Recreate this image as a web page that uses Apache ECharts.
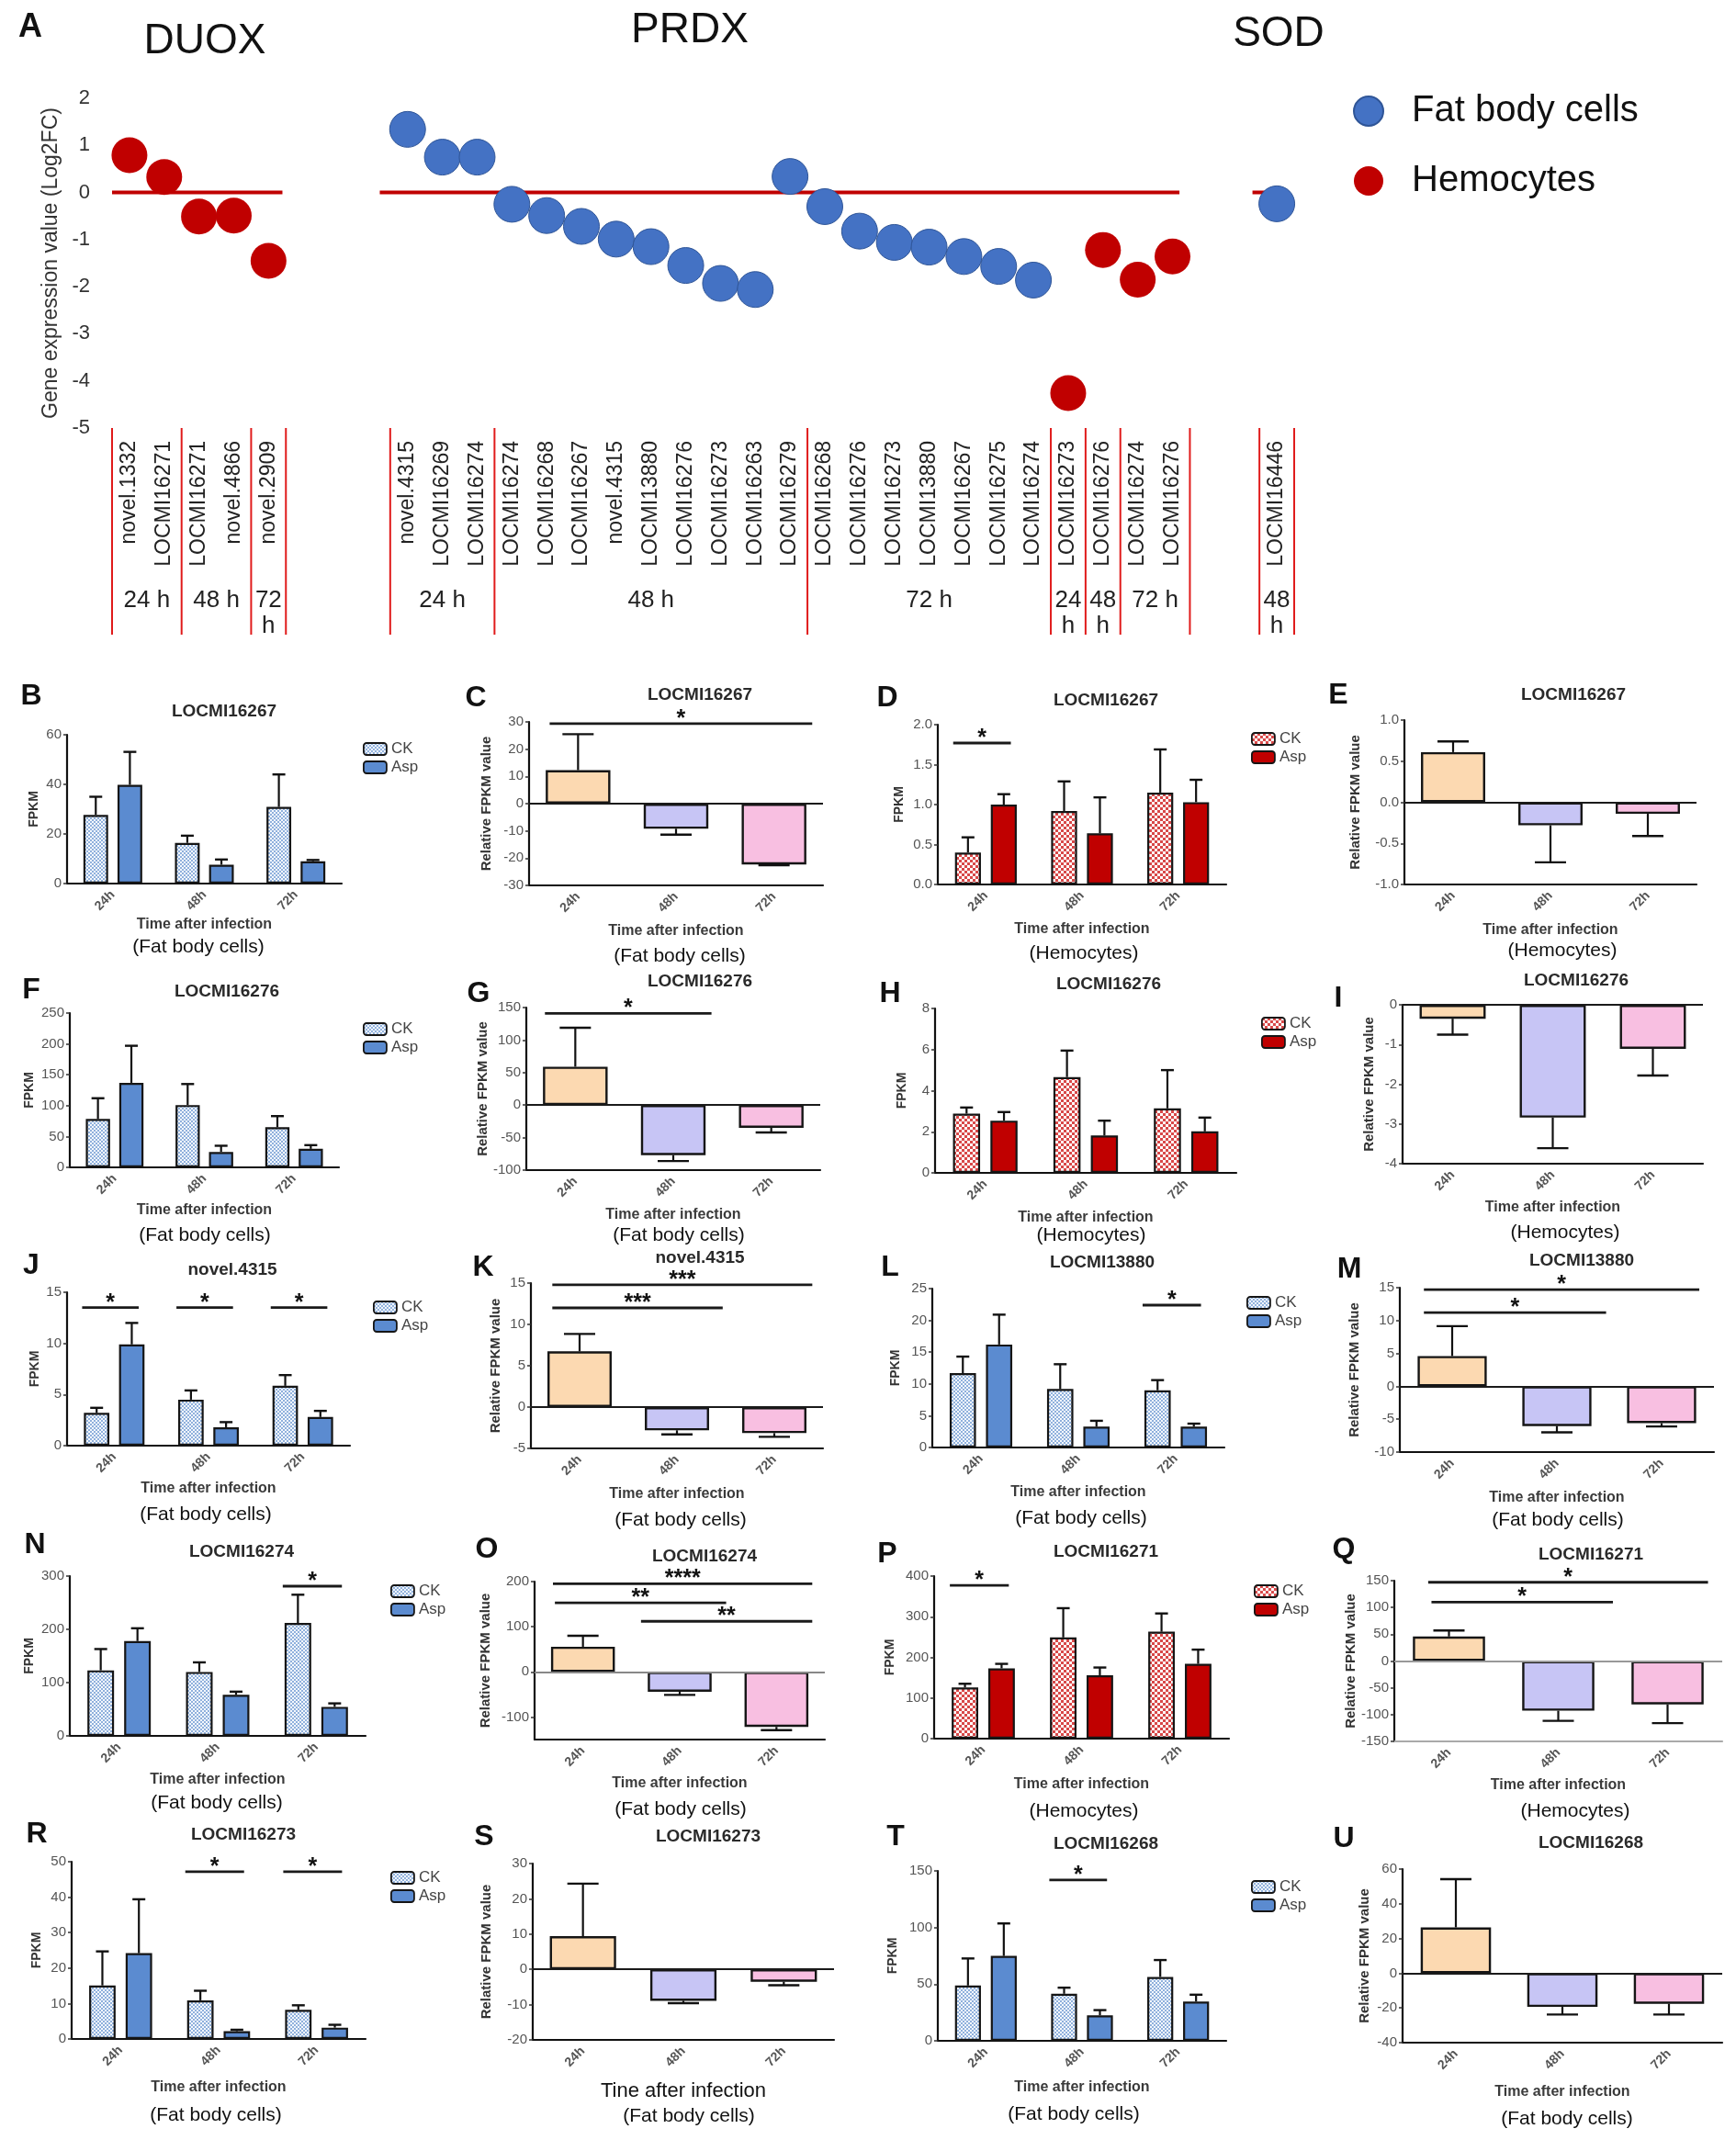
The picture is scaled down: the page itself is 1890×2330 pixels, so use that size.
<!DOCTYPE html>
<html>
<head>
<meta charset="utf-8">
<script src="https://cdn.jsdelivr.net/npm/echarts@6/dist/echarts.min.js"></script>
<style>html,body{margin:0;padding:0;background:#fff}#chart{width:1890px;height:2330px}</style>
</head>
<body>
<div id="chart"></div>
<script>
// ================= DATA =================
// Panel A (log2 fold change)
const duoxGenes = ['novel.1332','LOCMI16271','LOCMI16271','novel.4866','novel.2909'];
const duoxHemocytes = [0.79, 0.33, -0.51, -0.49, -1.45];
const duoxTimes = [['24 h',2],['48 h',2],['72 h',1]];
const prdxGenes = ['novel.4315','LOCMI16269','LOCMI16274','LOCMI16274','LOCMI16268','LOCMI16267','novel.4315','LOCMI13880','LOCMI16276','LOCMI16273','LOCMI16263','LOCMI16279','LOCMI16268','LOCMI16276','LOCMI16273','LOCMI13880','LOCMI16267','LOCMI16275','LOCMI16274','LOCMI16273','LOCMI16276','LOCMI16274','LOCMI16276'];
const prdxFatBody = [1.34,0.75,0.75,-0.25,-0.49,-0.72,-0.99,-1.15,-1.55,-1.93,-2.06,0.34,-0.30,-0.82,-1.06,-1.16,-1.36,-1.57,-1.86,null,null,null,null];
const prdxHemocytes = [null,null,null,null,null,null,null,null,null,null,null,null,null,null,null,null,null,null,null,-4.26,-1.22,-1.85,-1.36];
const prdxTimes = [['24 h',3],['48 h',9],['72 h',7],['24 h',1],['48 h',1],['72 h',2]];
const sodGenes = ['LOCMI16446'];
const sodFatBody = [-0.24];
const sodTimes = [['48 h',1]];

const times = ['24h','48h','72h'];

// FPKM panels: mean and error-bar end (mean + SEM)
const B_CK = [27.7, 16.4, 30.9], B_CK_ERR = [35.0, 19.3, 44.0], B_ASP = [39.8, 7.6, 9.0], B_ASP_ERR = [53.1, 9.7, 9.5];
const D_CK = [0.40, 0.92, 1.15], D_CK_ERR = [0.59, 1.29, 1.69], D_ASP = [1.00, 0.64, 1.03], D_ASP_ERR = [1.13, 1.09, 1.31];
const F_CK = [78.5, 101, 65], F_CK_ERR = [112, 135, 83], F_ASP = [137, 25, 30], F_ASP_ERR = [197, 35, 36];
const H_CK = [2.88, 4.66, 3.14], H_CK_ERR = [3.18, 5.95, 5.0], H_ASP = [2.54, 1.82, 2.02], H_ASP_ERR = [2.96, 2.54, 2.69];
const J_CK = [3.2, 4.5, 5.85], J_CK_ERR = [3.7, 5.4, 6.9], J_ASP = [9.9, 1.8, 2.8], J_ASP_ERR = [12.0, 2.3, 3.4];
const L_CK = [11.7, 9.2, 9.0], L_CK_ERR = [14.3, 13.1, 10.6], L_ASP = [16.2, 3.27, 3.27], L_ASP_ERR = [20.9, 4.2, 3.75];
const N_CK = [123, 120, 212], N_CK_ERR = [163, 138, 265], N_ASP = [178, 77, 54.5], N_ASP_ERR = [202, 83, 61];
const P_CK = [126, 249, 263], P_CK_ERR = [135, 321, 308], P_ASP = [173, 156, 184], P_ASP_ERR = [184, 175, 219];
const R_CK = [15.1, 10.9, 8.2], R_CK_ERR = [24.7, 13.6, 9.5], R_ASP = [24.2, 2.2, 3.2], R_ASP_ERR = [39.4, 2.6, 4.0];
const T_CK = [48.8, 41.5, 56.4], T_CK_ERR = [72.7, 46.9, 71.3], T_ASP = [74.9, 22.5, 34.7], T_ASP_ERR = [103.6, 27.1, 40.7];
// significance within a time point: [time index, height]
const B_SIG = [], D_SIG = [[0, 1.77]], F_SIG = [], H_SIG = [];
const J_SIG = [[0, 13.5], [1, 13.5], [2, 13.5]], L_SIG = [[2, 22.4]], N_SIG = [[2, 281]];
const P_SIG = [[0, 377]], R_SIG = [[1, 47.2], [2, 47.2]], T_SIG = [[1, 142]];

// Relative FPKM panels: value and error-bar end
const C_REL = [12.3, -9.2, -22.3], C_ERR = [25.5, -11.4, -22.6];
const E_REL = [0.61, -0.28, -0.14], E_ERR = [0.74, -0.73, -0.41];
const G_REL = [59, -77, -35], G_ERR = [119, -86, -42];
const I_REL = [-0.35, -2.84, -1.11], I_ERR = [-0.75, -3.61, -1.78];
const K_REL = [6.74, -2.81, -3.15], K_ERR = [8.85, -3.3, -3.6];
const M_REL = [4.6, -6.04, -5.6], M_ERR = [9.15, -7.0, -6.1];
const O_REL = [55.6, -44, -122], O_ERR = [80, -51, -129];
const Q_REL = [45.8, -92.7, -81], Q_ERR = [57, -111.6, -116];
const S_REL = [9.4, -8.9, -3.5], S_ERR = [24.3, -9.6, -4.5];
const U_REL = [26.4, -19.4, -17.6], U_ERR = [54.2, -23.8, -23.8];
// comparisons: [from (time units), to (time units), height, stars]
const C_SIG = [[-0.29, 2.39, 29.4, '*']];
const E_SIG = [];
const G_SIG = [[-0.31, 1.39, 141, '*']];
const I_SIG = [];
const K_SIG = [[-0.28, 2.39, 14.8, '***'], [-0.28, 1.47, 12.0, '***']];
const M_SIG = [[-0.27, 2.36, 14.7, '*'], [-0.27, 1.47, 11.2, '*']];
const O_SIG = [[-0.31, 2.37, 195, '****'], [-0.29, 1.48, 153, '**'], [0.60, 2.37, 112, '**']];
const Q_SIG = [[-0.19, 2.37, 147, '*'], [-0.16, 1.5, 110, '*']];
const S_SIG = [], U_SIG = [];

// ================= STYLE / LAYOUT =================
const SANS = "'Liberation Sans', Arial, Helvetica, sans-serif";
function checker(c1, c2, cell) {
  const cv = document.createElement('canvas');
  cv.width = cv.height = cell * 2;
  const g = cv.getContext('2d');
  g.fillStyle = c2; g.fillRect(0, 0, cell * 2, cell * 2);
  g.fillStyle = c1; g.fillRect(0, 0, cell, cell); g.fillRect(cell, cell, cell, cell);
  return {image: cv, repeat: 'repeat'};
}
const THEMES = {
  blue: {ck: checker('#8fb0dc', '#f4f8fd', 2), asp: '#5b8bd0'},
  red: {ck: checker('#d84848', '#ffffff', 3), asp: '#c00000'}
};
const REL_COLORS = ['#FCD9B1', '#C7C5F5', '#F8BFE1'];

const fpkmPanels = [
  {id:'B', gene:'LOCMI16267', cell:'(Fat body cells)', theme:'blue', ck:B_CK, ckErr:B_CK_ERR, asp:B_ASP, aspErr:B_ASP_ERR, sig:B_SIG, axis:[0,60,20], dec:0},
  {id:'D', gene:'LOCMI16267', cell:'(Hemocytes)', theme:'red', ck:D_CK, ckErr:D_CK_ERR, asp:D_ASP, aspErr:D_ASP_ERR, sig:D_SIG, axis:[0,2,0.5], dec:1},
  {id:'F', gene:'LOCMI16276', cell:'(Fat body cells)', theme:'blue', ck:F_CK, ckErr:F_CK_ERR, asp:F_ASP, aspErr:F_ASP_ERR, sig:F_SIG, axis:[0,250,50], dec:0},
  {id:'H', gene:'LOCMI16276', cell:'(Hemocytes)', theme:'red', ck:H_CK, ckErr:H_CK_ERR, asp:H_ASP, aspErr:H_ASP_ERR, sig:H_SIG, axis:[0,8,2], dec:0},
  {id:'J', gene:'novel.4315', cell:'(Fat body cells)', theme:'blue', ck:J_CK, ckErr:J_CK_ERR, asp:J_ASP, aspErr:J_ASP_ERR, sig:J_SIG, axis:[0,15,5], dec:0},
  {id:'L', gene:'LOCMI13880', cell:'(Fat body cells)', theme:'blue', ck:L_CK, ckErr:L_CK_ERR, asp:L_ASP, aspErr:L_ASP_ERR, sig:L_SIG, axis:[0,25,5], dec:0},
  {id:'N', gene:'LOCMI16274', cell:'(Fat body cells)', theme:'blue', ck:N_CK, ckErr:N_CK_ERR, asp:N_ASP, aspErr:N_ASP_ERR, sig:N_SIG, axis:[0,300,100], dec:0},
  {id:'P', gene:'LOCMI16271', cell:'(Hemocytes)', theme:'red', ck:P_CK, ckErr:P_CK_ERR, asp:P_ASP, aspErr:P_ASP_ERR, sig:P_SIG, axis:[0,400,100], dec:0},
  {id:'R', gene:'LOCMI16273', cell:'(Fat body cells)', theme:'blue', ck:R_CK, ckErr:R_CK_ERR, asp:R_ASP, aspErr:R_ASP_ERR, sig:R_SIG, axis:[0,50,10], dec:0},
  {id:'T', gene:'LOCMI16268', cell:'(Fat body cells)', theme:'blue', ck:T_CK, ckErr:T_CK_ERR, asp:T_ASP, aspErr:T_ASP_ERR, sig:T_SIG, axis:[0,150,50], dec:0}
];
const relPanels = [
  {id:'C', gene:'LOCMI16267', cell:'(Fat body cells)', rel:C_REL, err:C_ERR, sig:C_SIG, axis:[-30,30,10], dec:0},
  {id:'E', gene:'LOCMI16267', cell:'(Hemocytes)', rel:E_REL, err:E_ERR, sig:E_SIG, axis:[-1,1,0.5], dec:1},
  {id:'G', gene:'LOCMI16276', cell:'(Fat body cells)', rel:G_REL, err:G_ERR, sig:G_SIG, axis:[-100,150,50], dec:0},
  {id:'I', gene:'LOCMI16276', cell:'(Hemocytes)', rel:I_REL, err:I_ERR, sig:I_SIG, axis:[-4,0,1], dec:0},
  {id:'K', gene:'novel.4315', cell:'(Fat body cells)', rel:K_REL, err:K_ERR, sig:K_SIG, axis:[-5,15,5], dec:0},
  {id:'M', gene:'LOCMI13880', cell:'(Fat body cells)', rel:M_REL, err:M_ERR, sig:M_SIG, axis:[-10,15,5], dec:0},
  {id:'O', gene:'LOCMI16274', cell:'(Fat body cells)', rel:O_REL, err:O_ERR, sig:O_SIG, axis:[-150,200,null], ticks:[-100,0,100,200], dec:0},
  {id:'Q', gene:'LOCMI16271', cell:'(Hemocytes)', rel:Q_REL, err:Q_ERR, sig:Q_SIG, axis:[-150,150,50], dec:0},
  {id:'S', gene:'LOCMI16273', cell:'(Fat body cells)', rel:S_REL, err:S_ERR, sig:S_SIG, axis:[-20,30,10], dec:0, xTitle:'Tine after infection'},
  {id:'U', gene:'LOCMI16268', cell:'(Fat body cells)', rel:U_REL, err:U_ERR, sig:U_SIG, axis:[-40,60,20], dec:0}
];

// box: [left, top, right, bottom] of the plot area
const LAYOUT = {
  B:{box:[73,800,372,962], letter:[34,758], title:[244,775], xt:1007, cell:[216,1031], legend:[390,802], gap:29},
  C:{box:[576,786,896,964], letter:[518,760], title:[762,757], xt:1014, cell:[740,1041], gap:39},
  D:{box:[1021,789,1335,963], letter:[966,760], title:[1204,763], xt:1012, cell:[1180,1038], legend:[1357,791], gap:35},
  E:{box:[1529,784,1847,963], letter:[1457,757], title:[1713,757], xt:1013, cell:[1701,1035], gap:46},
  F:{box:[76,1103,369,1271], letter:[34,1078], title:[247,1080], xt:1318, cell:[223,1345], legend:[390,1107], gap:37},
  G:{box:[573,1097,893,1274], letter:[521,1082], title:[762,1069], xt:1323, cell:[739,1345], gap:39},
  H:{box:[1018,1098,1346,1277], letter:[969,1082], title:[1207,1072], xt:1326, cell:[1188,1345], legend:[1368,1101], gap:29},
  I:{box:[1527,1094,1854,1267], letter:[1457,1087], title:[1716,1068], xt:1315, cell:[1704,1342], gap:29},
  J:{box:[73,1407,381,1574], letter:[34,1378], title:[253,1383], xt:1621, cell:[224,1649], legend:[401,1410], gap:28},
  K:{box:[578,1397,896,1577], letter:[526,1380], title:[762,1370], xt:1627, cell:[741,1655], gap:31},
  L:{box:[1015,1403,1333,1576], letter:[969,1380], title:[1200,1375], xt:1625, cell:[1177,1653], legend:[1352,1405], gap:33},
  M:{box:[1524,1402,1866,1581], letter:[1469,1382], title:[1722,1373], xt:1631, cell:[1696,1655], gap:42},
  N:{box:[76,1716,398,1890], letter:[38,1682], title:[263,1690], xt:1938, cell:[236,1963], legend:[420,1719], gap:37},
  O:{box:[582,1722,898,1894], letter:[530,1687], title:[767,1695], xt:1942, cell:[741,1970], gap:46, zero:'#888'},
  P:{box:[1017,1716,1338,1893], letter:[966,1692], title:[1204,1690], xt:1943, cell:[1180,1972], legend:[1360,1719], gap:41},
  Q:{box:[1518,1721,1875,1896], letter:[1463,1687], title:[1732,1693], xt:1944, cell:[1715,1972], gap:39, zero:'#999', xline:'#aaa'},
  R:{box:[78,2027,398,2220], letter:[40,1997], title:[265,1998], xt:2273, cell:[235,2303], legend:[420,2031], gap:31},
  S:{box:[580,2029,908,2221], letter:[527,2000], title:[771,2000], xt:2277, cell:[750,2304], gap:43},
  T:{box:[1021,2037,1335,2222], letter:[975,2000], title:[1204,2008], xt:2273, cell:[1169,2302], legend:[1357,2041], gap:42},
  U:{box:[1527,2035,1875,2224], letter:[1463,2002], title:[1732,2007], xt:2278, cell:[1706,2307], gap:34}
};

// ================= BUILD =================
const option = {animation:false, backgroundColor:'#ffffff', grid:[], xAxis:[], yAxis:[], series:[], legend:[], graphic:{elements:[]}};
const GR = option.graphic.elements;
function addText(x, y, str, st) {
  GR.push({type:'text', x:x, y:y, silent:true, style:Object.assign({text:str, fill:'#111', align:'center', verticalAlign:'middle', fontFamily:SANS, fontSize:16}, st)});
}

// ---------- Panel A ----------
const families = [
  {title:'DUOX', genes:duoxGenes, fat:duoxGenes.map(() => null), hemo:duoxHemocytes, times:duoxTimes},
  {title:'PRDX', genes:prdxGenes, fat:prdxFatBody, hemo:prdxHemocytes, times:prdxTimes},
  {title:'SOD', genes:sodGenes, fat:sodFatBody, hemo:sodGenes.map(() => null), times:sodTimes}
];
const GAP_SLOTS = [3, 2];
const ZERO_PAD = [[0, -0.1], [-0.3, -0.3], [-0.2, -0.2]];
const cats = [], fatData = [], hemoData = [], seps = [], timeLabels = [], zeroSpans = [];
let slot = 0;
families.forEach((f, fi) => {
  const start = slot;
  f.genes.forEach((g, k) => {
    cats.push(g);
    if (f.fat[k] != null) fatData.push([slot, f.fat[k]]);
    if (f.hemo[k] != null) hemoData.push([slot, f.hemo[k]]);
    slot++;
  });
  let p = start;
  seps.push(start - 0.5);
  f.times.forEach(([t, n]) => {
    timeLabels.push([p + (n - 1) / 2, n === 1 ? t.replace(' ', '\n') : t]);
    p += n;
    seps.push(p - 0.5);
  });
  zeroSpans.push([start - 0.5 + ZERO_PAD[fi][0], slot - 0.5 + ZERO_PAD[fi][1]]);
  if (fi < GAP_SLOTS.length) for (let g = 0; g < GAP_SLOTS[fi]; g++) { cats.push(''); slot++; }
});
const NSLOT = cats.length;

option.grid.push({left:122, top:107, width:1287, height:359});
option.grid.push({left:122, top:466, width:1287, height:225});
option.xAxis.push({type:'category', gridIndex:0, data:cats, axisLine:{show:false}, axisTick:{show:false},
  axisLabel:{interval:0, rotate:90, fontSize:23, color:'#222', margin:14, fontFamily:SANS}});
option.xAxis.push({type:'value', gridIndex:0, min:-0.5, max:NSLOT - 0.5, show:false});
option.xAxis.push({type:'value', gridIndex:1, min:-0.5, max:NSLOT - 0.5, show:false});
option.yAxis.push({type:'value', gridIndex:0, min:-5, max:2, interval:1, axisLine:{show:false}, axisTick:{show:false}, splitLine:{show:false},
  axisLabel:{fontSize:22, color:'#333', margin:24, fontFamily:SANS},
  name:'Gene expression value (Log2FC)', nameLocation:'middle', nameGap:54, nameTextStyle:{fontSize:23, color:'#333', fontFamily:SANS}});
option.yAxis.push({type:'value', gridIndex:1, min:0, max:1, show:false});

option.series.push({type:'custom', xAxisIndex:1, yAxisIndex:0, z:1, silent:true, data:zeroSpans.map(s => [s[0], 0]),
  renderItem:(params, api) => {
    const s = zeroSpans[params.dataIndex];
    const a = api.coord([s[0], 0]), b = api.coord([s[1], 0]);
    return {type:'line', shape:{x1:a[0], y1:a[1], x2:b[0], y2:b[1]}, style:{stroke:'#c00000', lineWidth:4}};
  }});
option.series.push({type:'scatter', name:'Fat body cells', xAxisIndex:0, yAxisIndex:0, z:3, data:fatData, symbolSize:39,
  itemStyle:{color:'#4472C4', borderColor:'#2f5597', borderWidth:1, opacity:1}});
option.series.push({type:'scatter', name:'Hemocytes', xAxisIndex:0, yAxisIndex:0, z:3, data:hemoData, symbolSize:39,
  itemStyle:{color:'#C00000', opacity:1}});
option.series.push({type:'custom', xAxisIndex:2, yAxisIndex:1, silent:true, data:seps.map(s => [s, 0]),
  renderItem:(params, api) => {
    const s = seps[params.dataIndex];
    const a = api.coord([s, 0]), b = api.coord([s, 1]);
    return {type:'line', shape:{x1:a[0], y1:a[1], x2:b[0], y2:b[1]}, style:{stroke:'#e01b1b', lineWidth:2}};
  }});
option.series.push({type:'custom', xAxisIndex:2, yAxisIndex:1, silent:true, data:timeLabels.map(t => [t[0], 0.5]),
  renderItem:(params, api) => {
    const t = timeLabels[params.dataIndex];
    const a = api.coord([t[0], 0.5]);
    return {type:'text', x:a[0], y:640, style:{text:t[1], fontSize:26, fontFamily:SANS, fill:'#222', align:'center', verticalAlign:'top', lineHeight:28}};
  }});
option.legend.push({left:1468, top:96, orient:'vertical', selectedMode:false, icon:'circle', itemWidth:32, itemHeight:32, itemGap:36,
  textStyle:{fontSize:40, color:'#111', fontFamily:SANS, padding:[0,0,0,26]}, data:['Fat body cells','Hemocytes']});
addText(33, 30, 'A', {fontSize:36, fontWeight:'bold'});
const FAMILY_TITLE_POS = [[223, 45], [751, 33], [1392, 37]];
families.forEach((f, i) => addText(FAMILY_TITLE_POS[i][0], FAMILY_TITLE_POS[i][1], f.title, {fontSize:46}));

// ---------- helpers for bar panels ----------
function addGridAxes(L, axis, dec, yName, nameSize, xlineColor, ticks) {
  const [l, t, r, b] = L.box;
  const gi = option.grid.length;
  option.grid.push({left:l, top:t, width:r - l, height:b - t});
  const xi = option.xAxis.length, yi = option.yAxis.length;
  option.xAxis.push({type:'category', gridIndex:gi, data:times,
    axisLine:{onZero:false, lineStyle:{color:xlineColor || '#111', width:2.2}},
    axisTick:{alignWithLabel:true, length:5, lineStyle:{color:'#222', width:1.5}},
    axisLabel:{rotate:45, fontSize:14, fontWeight:'bold', color:'#555', margin:10, fontFamily:SANS}});
  const ya = {type:'value', gridIndex:gi, min:axis[0], max:axis[1],
    axisLine:{show:true, lineStyle:{color:'#111', width:2.2}}, axisTick:{show:true, length:4, lineStyle:{color:'#333', width:1.5}},
    splitLine:{show:false},
    axisLabel:{fontSize:15, color:'#555', margin:6, fontFamily:SANS, formatter:v => dec ? v.toFixed(dec) : String(v)},
    name:yName, nameLocation:'middle', nameGap:L.gap, nameTextStyle:{fontSize:nameSize, fontWeight:'bold', color:'#333', fontFamily:SANS}};
  if (axis[2] != null) ya.interval = axis[2];
  if (ticks) { ya.axisLabel.customValues = ticks; ya.axisTick.customValues = ticks; }
  option.yAxis.push(ya);
  return {xi, yi, cx:(l + r) / 2};
}
function errorSeries(xi, yi, items, capHalf) {
  return {type:'custom', xAxisIndex:xi, yAxisIndex:yi, z:4, silent:true, data:items.map(it => [it[0], it[1]]),
    renderItem:(params, api) => {
      const it = items[params.dataIndex];
      const bw = api.size([1, 0])[0];
      const a = api.coord([it[0], it[1]]), b = api.coord([it[0], it[2]]);
      const x = a[0] + it[3] * bw;
      return {type:'group', children:[
        {type:'line', shape:{x1:x, y1:a[1], x2:x, y2:b[1]}, style:{stroke:'#111', lineWidth:2.2}},
        {type:'line', shape:{x1:x - capHalf, y1:b[1], x2:x + capHalf, y2:b[1]}, style:{stroke:'#111', lineWidth:2.4}}
      ]};
    }};
}
function sigSeries(xi, yi, sigs) {
  return {type:'custom', xAxisIndex:xi, yAxisIndex:yi, z:4, silent:true, data:sigs.map(s => [0, s[2]]),
    renderItem:(params, api) => {
      const s = sigs[params.dataIndex];
      const bw = api.size([1, 0])[0];
      const o = api.coord([0, s[2]]);
      const x1 = o[0] + s[0] * bw, x2 = o[0] + s[1] * bw;
      return {type:'group', children:[
        {type:'line', shape:{x1:x1, y1:o[1], x2:x2, y2:o[1]}, style:{stroke:'#1a1a1a', lineWidth:2.8}},
        {type:'text', x:(x1 + x2) / 2, y:o[1] - 5, style:{text:s[3], fontSize:25, fontWeight:'bold', fontFamily:SANS, fill:'#111', align:'center', verticalAlign:'middle'}}
      ]};
    }};
}
function panelTexts(id, L, gene, cx, cell, xTitle) {
  addText(L.letter[0], L.letter[1], id, {fontSize:32, fontWeight:'bold'});
  addText(L.title[0], L.title[1], gene, {fontSize:19, fontWeight:'bold', fill:'#2a2a2a'});
  if (xTitle) addText(cx, L.xt, xTitle, {fontSize:22, fill:'#111'});
  else addText(cx, L.xt, 'Time after infection', {fontSize:16, fontWeight:'bold', fill:'#3a3a3a'});
  addText(L.cell[0], L.cell[1], cell, {fontSize:21, fill:'#111'});
}

// ---------- FPKM panels ----------
const BAR_OFF = 0.27 * 1.38 / 2;
fpkmPanels.forEach(P => {
  const L = LAYOUT[P.id];
  const th = THEMES[P.theme];
  const {xi, yi, cx} = addGridAxes(L, P.axis, P.dec, 'FPKM', 14);
  option.series.push({type:'bar', name:'CK', xAxisIndex:xi, yAxisIndex:yi, data:P.ck, barWidth:'27%', barGap:'38%', z:2,
    itemStyle:{color:th.ck, borderColor:'#151515', borderWidth:2.2}});
  option.series.push({type:'bar', name:'Asp', xAxisIndex:xi, yAxisIndex:yi, data:P.asp, barWidth:'27%', barGap:'38%', z:2,
    itemStyle:{color:th.asp, borderColor:'#151515', borderWidth:2.2}});
  const items = [];
  P.ck.forEach((v, i) => items.push([i, v, P.ckErr[i], -BAR_OFF]));
  P.asp.forEach((v, i) => items.push([i, v, P.aspErr[i], BAR_OFF]));
  option.series.push(errorSeries(xi, yi, items, 7));
  if (P.sig.length) option.series.push(sigSeries(xi, yi, P.sig.map(s => [s[0] - 0.34, s[0] + 0.26, s[1], '*'])));
  option.legend.push({left:L.legend[0], top:L.legend[1], orient:'vertical', selectedMode:false, icon:'roundRect',
    itemWidth:25, itemHeight:13, itemGap:3, textStyle:{fontSize:17, color:'#444', fontFamily:SANS},
    data:[{name:'CK', itemStyle:{color:th.ck, borderColor:'#151515', borderWidth:1.8}},
          {name:'Asp', itemStyle:{color:th.asp, borderColor:'#151515', borderWidth:1.8}}]});
  panelTexts(P.id, L, P.gene, cx, P.cell);
});

// ---------- Relative panels ----------
relPanels.forEach(P => {
  const L = LAYOUT[P.id];
  const {xi, yi, cx} = addGridAxes(L, P.axis, P.dec, 'Relative FPKM value', 15, L.xline, P.ticks);
  option.series.push({type:'bar', name:'Relative', xAxisIndex:xi, yAxisIndex:yi, barWidth:'66%', z:2,
    data:P.rel.map((v, i) => ({value:v, itemStyle:{color:REL_COLORS[i]}})),
    itemStyle:{borderColor:'#151515', borderWidth:2.4},
    markLine:{silent:true, symbol:['none','none'], label:{show:false}, z:3,
      lineStyle:{color:L.zero || '#1a1a1a', width:2.2, type:'solid'}, data:[{yAxis:0}]}});
  option.series.push(errorSeries(xi, yi, P.rel.map((v, i) => [i, v, P.err[i], 0]), 17));
  if (P.sig.length) option.series.push(sigSeries(xi, yi, P.sig));
  panelTexts(P.id, L, P.gene, cx, P.cell, P.xTitle);
});

const chart = echarts.init(document.getElementById('chart'), null, {renderer:'canvas', width:1890, height:2330});
chart.setOption(option);
</script>
</body>
</html>
